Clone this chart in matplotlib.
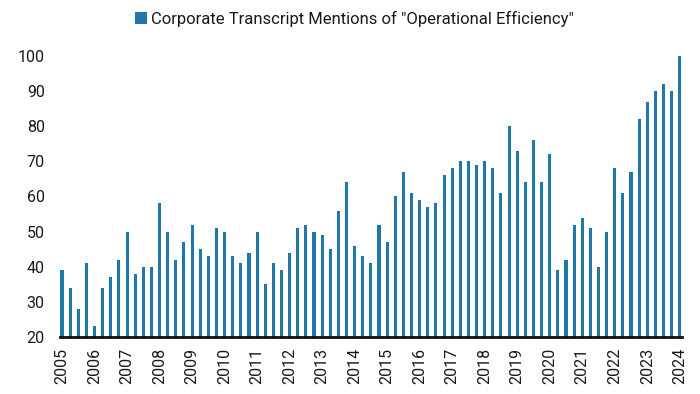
import matplotlib
matplotlib.use("Agg")
import matplotlib.pyplot as plt
from matplotlib.patches import Patch
import numpy as np

plt.rcParams['font.family'] = ['Roboto', 'DejaVu Sans']

years = list(range(2005, 2025))
series_name = 'Corporate Transcript Mentions of "Operational Efficiency"'
values = [
    39, 34, 28, 41,   # 2005
    23, 34, 37, 42,   # 2006
    50, 38, 40, 40,   # 2007
    58, 50, 42, 47,   # 2008
    52, 45, 43, 51,   # 2009
    50, 43, 41, 44,   # 2010
    50, 35, 41, 39,   # 2011
    44, 51, 52, 50,   # 2012
    49, 45, 56, 64,   # 2013
    46, 43, 41, 52,   # 2014
    47, 60, 67, 61,   # 2015
    59, 57, 58, 66,   # 2016
    68, 70, 70, 69,   # 2017
    70, 68, 61, 80,   # 2018
    73, 64, 76, 64,   # 2019
    72, 39, 42, 52,   # 2020
    54, 51, 40, 50,   # 2021
    68, 61, 67, 82,   # 2022
    87, 90, 92, 90,   # 2023
    100,              # 2024
]
yticks = [20, 30, 40, 50, 60, 70, 80, 90, 100]

color = '#1f78a8'

fig = plt.figure(figsize=(7.0, 3.94), dpi=100)
ax = fig.add_axes([0.0857, 0.1447, 0.8883, 0.7133])

x = np.arange(len(values))
ax.bar(x, np.array(values) - 20, bottom=20, width=0.38, color=color, zorder=2)

ax.set_ylim(20, 100)
ax.set_xlim(-0.25, len(values) - 0.75)
ax.set_yticks(yticks)
ax.set_yticklabels([str(t) for t in yticks])
ax.set_xticks(np.arange(0, len(values), 4))
ax.set_xticklabels([str(y) for y in years], rotation=90)
ax.tick_params(axis='y', length=0, pad=11, labelsize=11.5, labelcolor='#1a1a1a')
ax.tick_params(axis='x', length=0, pad=8, labelsize=11.5, labelcolor='#1a1a1a')

for s in ['top', 'right', 'left']:
    ax.spines[s].set_visible(False)
ax.spines['bottom'].set_linewidth(2)
ax.spines['bottom'].set_color('#111111')
ax.spines['bottom'].set_zorder(3)

handle = Patch(facecolor=color, edgecolor='none')
fig.legend([handle], [series_name], loc='center', bbox_to_anchor=(0.506, 0.952),
           frameon=False, fontsize=12, handlelength=0.75, handleheight=0.75,
           handletextpad=0.2, labelcolor='#1a1a1a')

fig.savefig('out.png', dpi=100)
